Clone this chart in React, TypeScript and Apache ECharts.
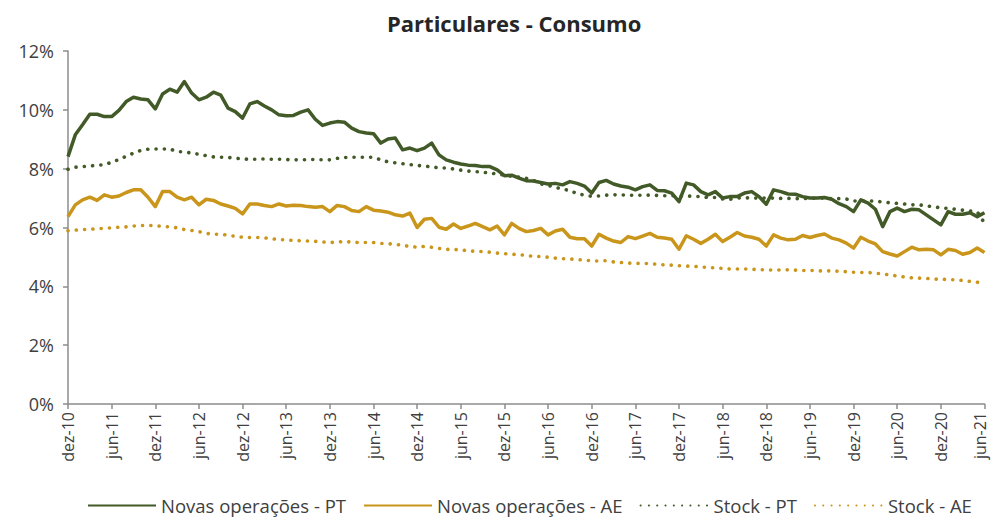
import React, { useEffect, useRef } from "react";
import * as echarts from "echarts";

const monthNames = ["jan", "fev", "mar", "abr", "mai", "jun", "jul", "ago", "set", "out", "nov", "dez"];
const categories: string[] = [];
for (let k = 0; k < 127; k++) {
  const m = (11 + k) % 12;
  const y = 10 + Math.floor((11 + k) / 12);
  categories.push(`${monthNames[m]}-${y}`);
}

const novasPT = [
  8.41, 9.15, 9.49, 9.85, 9.85, 9.77, 9.77, 9.98, 10.28, 10.43, 10.37, 10.34, 10.03, 10.54, 10.7, 10.6, 10.96, 10.57, 10.34, 10.43, 10.6, 10.5,
  10.06, 9.94, 9.72, 10.2, 10.28, 10.13, 10.0, 9.83, 9.8, 9.81, 9.92, 10.0, 9.68, 9.47, 9.55, 9.6, 9.58, 9.38, 9.26, 9.21, 9.19,
  8.87, 9.01, 9.04, 8.64, 8.7, 8.61, 8.7, 8.87, 8.47, 8.3, 8.22, 8.16, 8.12, 8.11, 8.07, 8.07, 7.96, 7.76, 7.78, 7.68, 7.59, 7.58,
  7.53, 7.48, 7.5, 7.45, 7.56, 7.5, 7.41, 7.17, 7.53, 7.6, 7.48, 7.41, 7.37, 7.28, 7.39, 7.45, 7.26, 7.25, 7.17, 6.88, 7.51,
  7.45, 7.22, 7.11, 7.22, 7.0, 7.05, 7.05, 7.17, 7.22, 7.05, 6.79, 7.28, 7.22, 7.14, 7.13, 7.05, 7.0, 7.0, 7.02, 6.96, 6.81,
  6.71, 6.54, 6.94, 6.83, 6.62, 6.03, 6.54, 6.66, 6.54, 6.62, 6.6, 6.43, 6.26, 6.09, 6.54, 6.45, 6.45, 6.5, 6.37, 6.5,
];

const novasAE = [
  6.37, 6.77, 6.94, 7.03, 6.92, 7.11, 7.03, 7.07, 7.19, 7.28, 7.28, 7.03, 6.71, 7.22, 7.22, 7.03, 6.94, 7.03, 6.77, 6.96, 6.92, 6.8,
  6.73, 6.65, 6.46, 6.8, 6.8, 6.75, 6.71, 6.8, 6.73, 6.76, 6.75, 6.71, 6.69, 6.71, 6.54, 6.75, 6.71, 6.58, 6.54, 6.71, 6.59,
  6.56, 6.52, 6.43, 6.39, 6.49, 6.0, 6.28, 6.31, 6.01, 5.94, 6.12, 5.97, 6.05, 6.14, 6.03, 5.92, 6.05, 5.75, 6.14, 5.97, 5.86, 5.9,
  5.97, 5.75, 5.88, 5.94, 5.67, 5.62, 5.62, 5.37, 5.77, 5.64, 5.54, 5.49, 5.69, 5.62, 5.71, 5.8, 5.67, 5.64, 5.6, 5.26, 5.72,
  5.6, 5.46, 5.6, 5.77, 5.52, 5.67, 5.83, 5.71, 5.67, 5.6, 5.37, 5.75, 5.64, 5.58, 5.6, 5.73, 5.66, 5.73, 5.78, 5.64, 5.58,
  5.47, 5.3, 5.67, 5.54, 5.44, 5.18, 5.1, 5.03, 5.18, 5.33, 5.24, 5.26, 5.24, 5.07, 5.26, 5.22, 5.09, 5.15, 5.3, 5.15,
];

const stockPT = [
  7.98, 8.05, 8.07, 8.09, 8.12, 8.13, 8.22, 8.31, 8.42, 8.53, 8.62, 8.66, 8.67, 8.67, 8.67, 8.58, 8.57, 8.53, 8.49, 8.44, 8.4, 8.39,
  8.38, 8.36, 8.33, 8.32, 8.32, 8.33, 8.32, 8.32, 8.31, 8.3, 8.3, 8.31, 8.31, 8.3, 8.3, 8.35, 8.38, 8.39, 8.39, 8.39, 8.39,
  8.3, 8.23, 8.2, 8.17, 8.14, 8.11, 8.09, 8.06, 8.03, 8.02, 7.99, 7.95, 7.92, 7.9, 7.88, 7.85, 7.82, 7.78, 7.74, 7.71, 7.67, 7.6,
  7.48, 7.43, 7.37, 7.3, 7.26, 7.15, 7.1, 7.06, 7.07, 7.1, 7.11, 7.11, 7.1, 7.09, 7.1, 7.1, 7.09, 7.08, 7.08, 7.07, 7.07,
  7.06, 7.05, 7.02, 7.02, 6.97, 6.96, 7.0, 7.01, 7.0, 7.0, 7.0, 7.0, 6.99, 6.99, 6.98, 6.98, 6.99, 7.0, 7.0, 6.98, 6.98,
  6.97, 6.9, 6.91, 6.91, 6.89, 6.87, 6.84, 6.82, 6.8, 6.77, 6.77, 6.74, 6.7, 6.67, 6.65, 6.62, 6.59, 6.56, 6.53, 6.15,
];

const stockAE = [
  5.89, 5.91, 5.93, 5.94, 5.96, 5.97, 5.99, 6.01, 6.02, 6.05, 6.07, 6.07, 6.06, 6.04, 6.02, 5.99, 5.93, 5.9, 5.86, 5.8, 5.77, 5.77,
  5.74, 5.7, 5.67, 5.66, 5.66, 5.65, 5.62, 5.59, 5.58, 5.56, 5.55, 5.54, 5.53, 5.51, 5.49, 5.5, 5.53, 5.5, 5.49, 5.49, 5.49,
  5.46, 5.45, 5.43, 5.39, 5.36, 5.33, 5.36, 5.33, 5.29, 5.26, 5.25, 5.24, 5.21, 5.19, 5.18, 5.16, 5.13, 5.11, 5.09, 5.08, 5.05, 5.02,
  5.01, 4.99, 4.96, 4.94, 4.93, 4.91, 4.89, 4.87, 4.86, 4.87, 4.83, 4.81, 4.79, 4.78, 4.78, 4.77, 4.75, 4.73, 4.72, 4.7, 4.69,
  4.68, 4.66, 4.64, 4.63, 4.61, 4.59, 4.59, 4.59, 4.58, 4.57, 4.56, 4.55, 4.56, 4.56, 4.55, 4.54, 4.54, 4.53, 4.52, 4.53, 4.51,
  4.5, 4.48, 4.47, 4.47, 4.45, 4.42, 4.39, 4.35, 4.32, 4.29, 4.28, 4.27, 4.25, 4.24, 4.23, 4.22, 4.2, 4.17, 4.14, 4.08,
];

const GREEN = "#425a27";
const GOLD = "#c9961b";
const FONT = "Open Sans";

export default function App() {
  const ref = useRef<HTMLDivElement>(null);
  useEffect(() => {
    if (!ref.current) return;
    const chart = echarts.init(ref.current, null, { renderer: "svg" });
    const solid = (color: string) => ({ color, width: 3.5, type: "solid" as const, join: "round" as const });
    const dotted = (color: string) => ({
      color,
      width: 3.6,
      type: [0.1, 8.2] as any,
      cap: "round" as const,
    });
    const lastIdx = categories.length - 1;
    chart.setOption({
      animation: false,
      backgroundColor: "#ffffff",
      title: {
        text: "Particulares - Consumo",
        left: 382,
        top: 7,
        textStyle: { fontFamily: FONT, fontSize: 22, fontWeight: "bold", color: "#262626" },
      },
      legend: {
        top: 491,
        left: 82,
        itemWidth: 68,
        itemHeight: 4,
        itemGap: 17,
        itemStyle: { opacity: 0 },
        textStyle: { fontFamily: FONT, fontSize: 18.5, color: "#404040" },
        data: ["Novas operações - PT", "Novas operações - AE", "Stock - PT", "Stock - AE"],
      },
      grid: { left: 68, right: 8, top: 51, bottom: 114, containLabel: false },
      xAxis: {
        type: "category",
        data: categories,
        boundaryGap: false,
        axisLine: { lineStyle: { color: "#8c8c8c", width: 1.5 } },
        axisTick: { interval: 5, length: 5, lineStyle: { color: "#8c8c8c", width: 1.5 } },
        axisLabel: {
          interval: 5,
          rotate: 90,
          fontFamily: FONT,
          fontSize: 16,
          lineHeight: 14,
          color: "#404040",
          margin: 8,
          formatter: (value: string, index: number) => (index === lastIdx ? `{e|${value}}` : value),
          rich: {
            e: { fontFamily: FONT, fontSize: 16, color: "#404040", lineHeight: 14, padding: [0, 0, 9, 0] },
          },
        },
        splitLine: { show: false },
      },
      yAxis: {
        type: "value",
        min: 0,
        max: 12,
        interval: 2,
        axisLine: { show: true, lineStyle: { color: "#8c8c8c", width: 1.5 } },
        axisTick: { show: true, length: 5, lineStyle: { color: "#8c8c8c", width: 1.5 } },
        axisLabel: { formatter: "{value}%", fontFamily: FONT, fontSize: 18, color: "#404040", margin: 14 },
        splitLine: { show: false },
      },
      series: [
        { name: "Novas operações - PT", type: "line", data: novasPT, showSymbol: false, symbol: "none", lineStyle: solid(GREEN), itemStyle: { color: GREEN } },
        { name: "Novas operações - AE", type: "line", data: novasAE, showSymbol: false, symbol: "none", lineStyle: solid(GOLD), itemStyle: { color: GOLD } },
        { name: "Stock - PT", type: "line", data: stockPT, showSymbol: false, symbol: "none", lineStyle: dotted(GREEN), itemStyle: { color: GREEN } },
        { name: "Stock - AE", type: "line", data: stockAE, showSymbol: false, symbol: "none", lineStyle: dotted(GOLD), itemStyle: { color: GOLD } },
      ],
    });
    return () => chart.dispose();
  }, []);
  return <div ref={ref} style={{ position: "fixed", left: 0, top: 0, width: 997, height: 518 }} />;
}
